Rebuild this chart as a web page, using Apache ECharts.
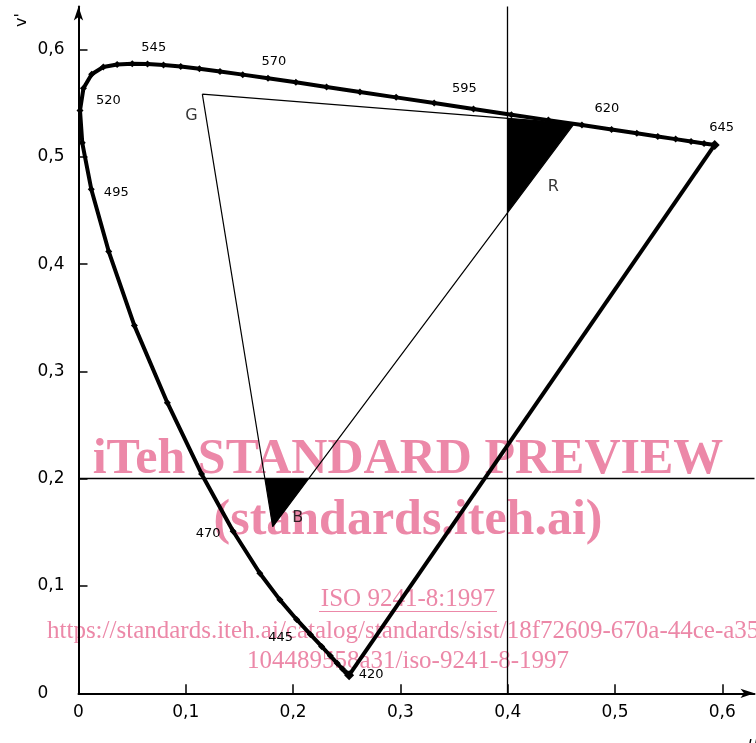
<!DOCTYPE html>
<html>
<head>
<meta charset="utf-8">
<script src="https://cdn.jsdelivr.net/npm/echarts@6/dist/echarts.min.js"></script>
<style>
html, body { margin: 0; padding: 0; background: #fff; }
#chart { width: 756px; height: 743px; }
</style>
</head>
<body>
<div id="chart"></div>
<script>
// spectral locus, u'v' per wavelength (nm)
var wavelengths = [420, 425, 430, 435, 440, 445, 450, 455, 460, 465, 470, 475, 480, 485, 490, 495,
    500, 505, 510, 515, 520, 525, 530, 535, 540, 545, 550, 555, 560, 565, 570, 575, 580, 585, 590,
    595, 600, 605, 610, 615, 620, 625, 630, 635, 640, 645];
var uPrime = [0.2522, 0.2496, 0.2461, 0.2411, 0.2347, 0.2266, 0.2161, 0.2033, 0.1877, 0.1690, 0.1441,
    0.1147, 0.0828, 0.0521, 0.0282, 0.0119, 0.0035, 0.0014, 0.0046, 0.0123, 0.0231, 0.0360, 0.0501,
    0.0643, 0.0792, 0.0953, 0.1127, 0.1319, 0.1531, 0.1766, 0.2026, 0.2312, 0.2623, 0.2960, 0.3315,
    0.3681, 0.4035, 0.4379, 0.4692, 0.4968, 0.5203, 0.5399, 0.5565, 0.5709, 0.5830, 0.5929];
var vPrime = [0.0169, 0.0191, 0.0226, 0.0279, 0.0350, 0.0437, 0.0549, 0.0688, 0.0871, 0.1119, 0.1510,
    0.2044, 0.2708, 0.3427, 0.4117, 0.4698, 0.5131, 0.5432, 0.5638, 0.5770, 0.5837, 0.5861, 0.5868,
    0.5865, 0.5856, 0.5841, 0.5821, 0.5796, 0.5766, 0.5732, 0.5694, 0.5651, 0.5604, 0.5554, 0.5501,
    0.5446, 0.5393, 0.5342, 0.5296, 0.5254, 0.5219, 0.5190, 0.5165, 0.5143, 0.5125, 0.5111];
var labeledWavelengths = [420, 445, 470, 495, 520, 545, 570, 595, 620, 645];

// display primaries
var primaryNames = ['G', 'R', 'B'];
var primaryU = [0.1154, 0.462, 0.181];
var primaryV = [0.5585, 0.531, 0.1553];

// limit lines
var uLimit = 0.4;
var vLimit = 0.2;

var xTicks = [0, 0.1, 0.2, 0.3, 0.4, 0.5, 0.6];
var yTicks = [0, 0.1, 0.2, 0.3, 0.4, 0.5, 0.6];

// label placement (pixels, label centre relative to point)
var wlLabelOffset = {
    420: [22, -1], 445: [-41, -9], 470: [-25, 2], 495: [25, 3], 520: [5, 34],
    545: [-27, -19], 570: [-22, -21], 595: [-9, -20], 620: [-30, -25], 645: [7, -17]
};
var primaryLabelOffset = { G: [-11, 22], R: [-21, 63], B: [25, -9] };

function commaNum(v) {
    return String(Math.round(v * 10) / 10).replace('.', ',');
}

function clipHalf(poly, k, val, keepAbove) {
    var out = [];
    for (var i = 0; i < poly.length; i++) {
        var a = poly[i], b = poly[(i + 1) % poly.length];
        var ina = keepAbove ? a[k] >= val : a[k] <= val;
        var inb = keepAbove ? b[k] >= val : b[k] <= val;
        if (ina) out.push(a);
        if (ina !== inb) {
            var t = (val - a[k]) / (b[k] - a[k]);
            out.push([a[0] + t * (b[0] - a[0]), a[1] + t * (b[1] - a[1])]);
        }
    }
    return out;
}

var triangle = primaryNames.map(function (n, i) { return [primaryU[i], primaryV[i]]; });
var shaded = [clipHalf(triangle, 0, uLimit, true), clipHalf(triangle, 1, vLimit, false)];

var locusData = wavelengths.map(function (w, i) {
    var item = { value: [uPrime[i], vPrime[i]] };
    if (i === 0 || i === wavelengths.length - 1) item.symbolSize = 10;
    if (labeledWavelengths.indexOf(w) >= 0) {
        item.label = {
            show: true, formatter: String(w), position: 'inside',
            offset: wlLabelOffset[w], color: '#000', fontSize: 13,
            fontFamily: 'DejaVu Sans'
        };
    }
    return item;
});

var last = wavelengths.length - 1;
var purpleData = [[uPrime[last], vPrime[last]], [uPrime[0], vPrime[0]]];

// watermark sits under the drawing, like the scanned page
var wmColor = '#ec88a8';
var wmSerif = '"Liberation Serif", "Times New Roman", serif';

var chart = echarts.init(document.getElementById('chart'));
chart.setOption({
    animation: false,
    backgroundColor: '#fff',
    grid: { left: 78.5, top: 6.6, width: 676, height: 686.7 },
    xAxis: {
        type: 'value', min: 0, max: 0.63,
        axisLine: {
            show: true, onZero: false, symbol: ['none', 'arrow'], symbolSize: [7, 14],
            lineStyle: { color: '#000', width: 2 }
        },
        axisTick: { show: true, inside: true, length: 9, customValues: xTicks, lineStyle: { color: '#000', width: 1.5 } },
        axisLabel: {
            customValues: xTicks, formatter: commaNum, color: '#000', fontSize: 17,
            fontFamily: 'DejaVu Sans', margin: 11
        },
        splitLine: { show: false }
    },
    yAxis: {
        type: 'value', min: 0, max: 0.64,
        axisLine: {
            show: true, onZero: false, symbol: ['none', 'arrow'], symbolSize: [7, 14],
            lineStyle: { color: '#000', width: 2 }
        },
        axisTick: { show: true, inside: true, length: 9, customValues: yTicks, lineStyle: { color: '#000', width: 1.5 } },
        axisLabel: {
            customValues: yTicks, formatter: commaNum, color: '#000', fontSize: 17,
            fontFamily: 'DejaVu Sans', margin: 41, align: 'left'
        },
        splitLine: { show: false }
    },
    series: [{
        type: 'custom',
        coordinateSystem: 'cartesian2d',
        silent: true,
        data: shaded.map(function (p, i) { return [p[0][0], p[0][1], i]; }),
        renderItem: function (params, api) {
            var poly = shaded[params.dataIndex];
            return {
                type: 'polygon',
                shape: { points: poly.map(function (p) { return api.coord(p); }) },
                style: { fill: '#000' }
            };
        },
        z: 2
    }, {
        type: 'line',
        data: triangle.concat([triangle[0]]),
        symbol: 'none',
        lineStyle: { color: '#000', width: 1.2 },
        silent: true,
        z: 2,
        markLine: {
            silent: true, symbol: 'none', animation: false,
            label: { show: false },
            lineStyle: { color: '#000', width: 1.3, type: 'solid' },
            data: [{ xAxis: uLimit }, { yAxis: vLimit }]
        }
    }, {
        type: 'scatter',
        data: primaryNames.map(function (n, i) {
            return {
                value: [primaryU[i], primaryV[i]],
                label: {
                    show: true, formatter: n, position: 'inside', offset: primaryLabelOffset[n],
                    color: '#000', fontSize: 16, fontFamily: 'DejaVu Sans'
                }
            };
        }),
        symbolSize: 0,
        silent: true,
        z: 4
    }, {
        type: 'line',
        data: purpleData,
        symbol: 'none',
        lineStyle: { color: '#000', width: 4 },
        silent: true,
        z: 3
    }, {
        type: 'line',
        data: locusData,
        symbol: 'diamond',
        symbolSize: 7,
        showAllSymbol: true,
        itemStyle: { color: '#000', borderWidth: 0 },
        lineStyle: { color: '#000', width: 4 },
        silent: true,
        z: 3
    }],
    graphic: [
        { type: 'text', x: 22, y: 20, rotation: Math.PI / 2, z: 10,
          style: { text: "v'", fill: '#000', font: '16px "DejaVu Sans"', align: 'center', verticalAlign: 'middle' } },
        { type: 'text', x: 748, y: 736, z: 10,
          style: { text: "u'", fill: '#000', font: 'italic 16px "DejaVu Sans"', align: 'left', verticalAlign: 'top' } },
        { type: 'text', x: 408, y: 460, z: -1,
          style: { text: 'iTeh STANDARD PREVIEW', fill: wmColor, font: 'bold 50px ' + wmSerif, align: 'center', verticalAlign: 'middle' } },
        { type: 'text', x: 408, y: 521, z: -1,
          style: { text: '(standards.iteh.ai)', fill: wmColor, font: 'bold 50px ' + wmSerif, align: 'center', verticalAlign: 'middle' } },
        { type: 'text', x: 408, y: 599, z: -1,
          style: { text: 'ISO 9241-8:1997', fill: wmColor, font: '25px ' + wmSerif, align: 'center', verticalAlign: 'middle' } },
        { type: 'line', z: -1, shape: { x1: 319, y1: 611.5, x2: 497, y2: 611.5 }, style: { stroke: wmColor, lineWidth: 1.2 } },
        { type: 'text', x: 47, y: 631, z: -1,
          style: { text: 'https://standards.iteh.ai/catalog/standards/sist/18f72609-670a-44ce-a357-', fill: wmColor, font: '25px ' + wmSerif, align: 'left', verticalAlign: 'middle' } },
        { type: 'text', x: 408, y: 661, z: -1,
          style: { text: '104489558a31/iso-9241-8-1997', fill: wmColor, font: '25px ' + wmSerif, align: 'center', verticalAlign: 'middle' } }
    ]
});
</script>
</body>
</html>
